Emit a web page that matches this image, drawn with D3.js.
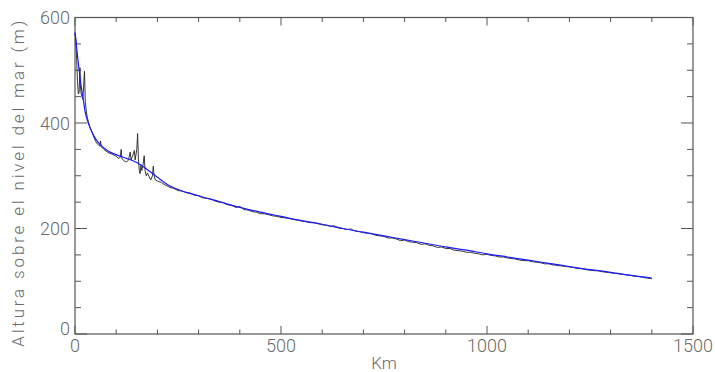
<!DOCTYPE html>
<html>
<head>
<meta charset="utf-8">
<script src="https://cdn.jsdelivr.net/npm/d3@7"></script>
<style>
  html, body { margin: 0; padding: 0; background: #fff; }
  svg text { font-family: Roboto, "Liberation Sans", Arial, sans-serif; font-weight: 300; fill: #6a6a6a; }
</style>
</head>
<body>
<svg id="chart" width="715" height="372"></svg>
<script>
// ---- Data ----
const xTicks = [0, 500, 1000, 1500];
const yTicks = [0, 200, 400, 600];
const xLabel = "Km";
const yLabel = "Altura sobre el nivel del mar (m)";

// Observed profile (km, altitude m)
const obsKm = [0,2,4,6,8,10,12,13,15,17,19,21,23,25,27,30,35,40,45,50,55,60,62,64,70,80,90,100,105,110,112,114,120,125,130,134,136,140,144,146,150,152,154,156,158,160,162,165,168,170,173,176,180,184,188,190,192,195,200,210,220,230,240,
  250,260,270,280,290,300,310,320,330,340,350,360,370,380,390,400,410,420,430,440,450,460,470,480,490,500,510,520,530,540,550,560,570,580,590,600,610,620,630,640,650,660,670,680,690,700,710,720,730,740,750,760,770,780,790,800,810,820,830,840,850,860,870,880,890,900,910,920,930,940,950,960,970,980,990,1000,1010,1020,1030,1040,1050,1060,1070,1080,1090,1100,1110,1120,1130,1140,1150,1160,1170,1180,1190,1200,1210,1220,1230,1240,1250,1260,1270,1280,1290,1300,1310,1320,1330,1340,1350,1360,1370,1380,1390,1400];
const obsAlt = [570,560,520,480,455,458,505,470,455,450,445,470,498,440,425,410,395,385,375,365,360,356,366,355,350,344,341,337,333,335,350,332,328,326,330,345,330,338,348,330,350,380,330,310,304,320,310,320,338,310,300,305,298,292,300,318,300,292,290,287,282,278,276,
  272,271,268,267,263,262,258,257,256,252,250,249,245,244,240,242,236,235,232,231,228,228,226,224,223,221,220,219,217,216,214,213,211,211,209,207,206,204,205,201,200,198,199,195,194,192,191,190,187,186,185,182,182,180,177,178,175,174,173,170,171,168,167,164,165,162,162,159,158,157,155,155,153,152,150,151,149,148,146,146,144,143,142,140,139,139,137,136,135,133,133,131,130,129,128,127,126,124,124,122,121,120,120,118,117,116,115,114,113,112,111,109,109,107,106,105];

// Fitted (smooth) profile
const fitKm  = [0,5,10,15,20,25,30,40,50,60,80,100,125,150,175,200,225,250,300,350,400,450,500,550,600,650,700,750,800,850,900,950,1000,1050,1100,1150,1200,1250,1300,1350,1400];
const fitAlt = [572,535,500,470,445,420,405,385,370,360,347,340,333,325,312,297,283,274,262,251,240,231,223,215,208,200,193,186,179,172,165,159,152,146,140,134,128,122,117,111,106];

// ---- Chart ----
const svg = d3.select("#chart");
const L = 75, R = 693, T = 17.5, B = 334;
const x = d3.scaleLinear().domain([0, 1500]).range([L, R]);
const y = d3.scaleLinear().domain([0, 600]).range([B, T]);

const axisColor = "#555";

// Frame
svg.append("rect").attr("x", L).attr("y", T).attr("width", R - L).attr("height", B - T)
  .attr("fill", "none").attr("stroke", axisColor).attr("stroke-width", 1.2);

const xMinor = d3.range(0, 1501, 100);
const yMinor = d3.range(0, 601, 50);
const tickG = svg.append("g").attr("stroke", axisColor).attr("stroke-width", 1);
xMinor.forEach(v => {
  const len = v % 500 === 0 ? 8 : 4.5;
  tickG.append("line").attr("x1", x(v)).attr("x2", x(v)).attr("y1", B).attr("y2", B - len);
  tickG.append("line").attr("x1", x(v)).attr("x2", x(v)).attr("y1", T).attr("y2", T + len);
});
yMinor.forEach(v => {
  const len = v % 200 === 0 ? 12 : 6;
  tickG.append("line").attr("y1", y(v)).attr("y2", y(v)).attr("x1", L).attr("x2", L + len);
  tickG.append("line").attr("y1", y(v)).attr("y2", y(v)).attr("x1", R).attr("x2", R - len);
});

// Tick labels
svg.append("g").selectAll("text").data(xTicks).join("text")
  .attr("x", d => x(d)).attr("y", 352)
  .attr("text-anchor", "middle").attr("font-size", 18).text(d => d);
svg.append("g").selectAll("text").data(yTicks).join("text")
  .attr("x", 70).attr("y", d => y(d) + 6.5 - (d === 0 ? 6 : 0))
  .attr("text-anchor", "end").attr("font-size", 18).text(d => d);

// Axis titles
svg.append("text").attr("x", (L + R) / 2).attr("y", 369).attr("text-anchor", "middle")
  .attr("font-size", 17).text(xLabel);
svg.append("text").attr("transform", `translate(24, ${(T + B) / 2 + 8}) rotate(-90)`)
  .attr("text-anchor", "middle").attr("font-size", 17)
  .attr("textLength", 326).attr("lengthAdjust", "spacing").text(yLabel);

// Lines
const line = d3.line().x(d => x(d[0])).y(d => y(d[1]));
svg.append("path").datum(d3.zip(obsKm, obsAlt)).attr("d", line)
  .attr("fill", "none").attr("stroke", "#222").attr("stroke-width", 0.9);
svg.append("path").datum(d3.zip(fitKm, fitAlt)).attr("d", line.curve(d3.curveMonotoneX))
  .attr("fill", "none").attr("stroke", "#1a1aff").attr("stroke-width", 1.2);
</script>
</body>
</html>
